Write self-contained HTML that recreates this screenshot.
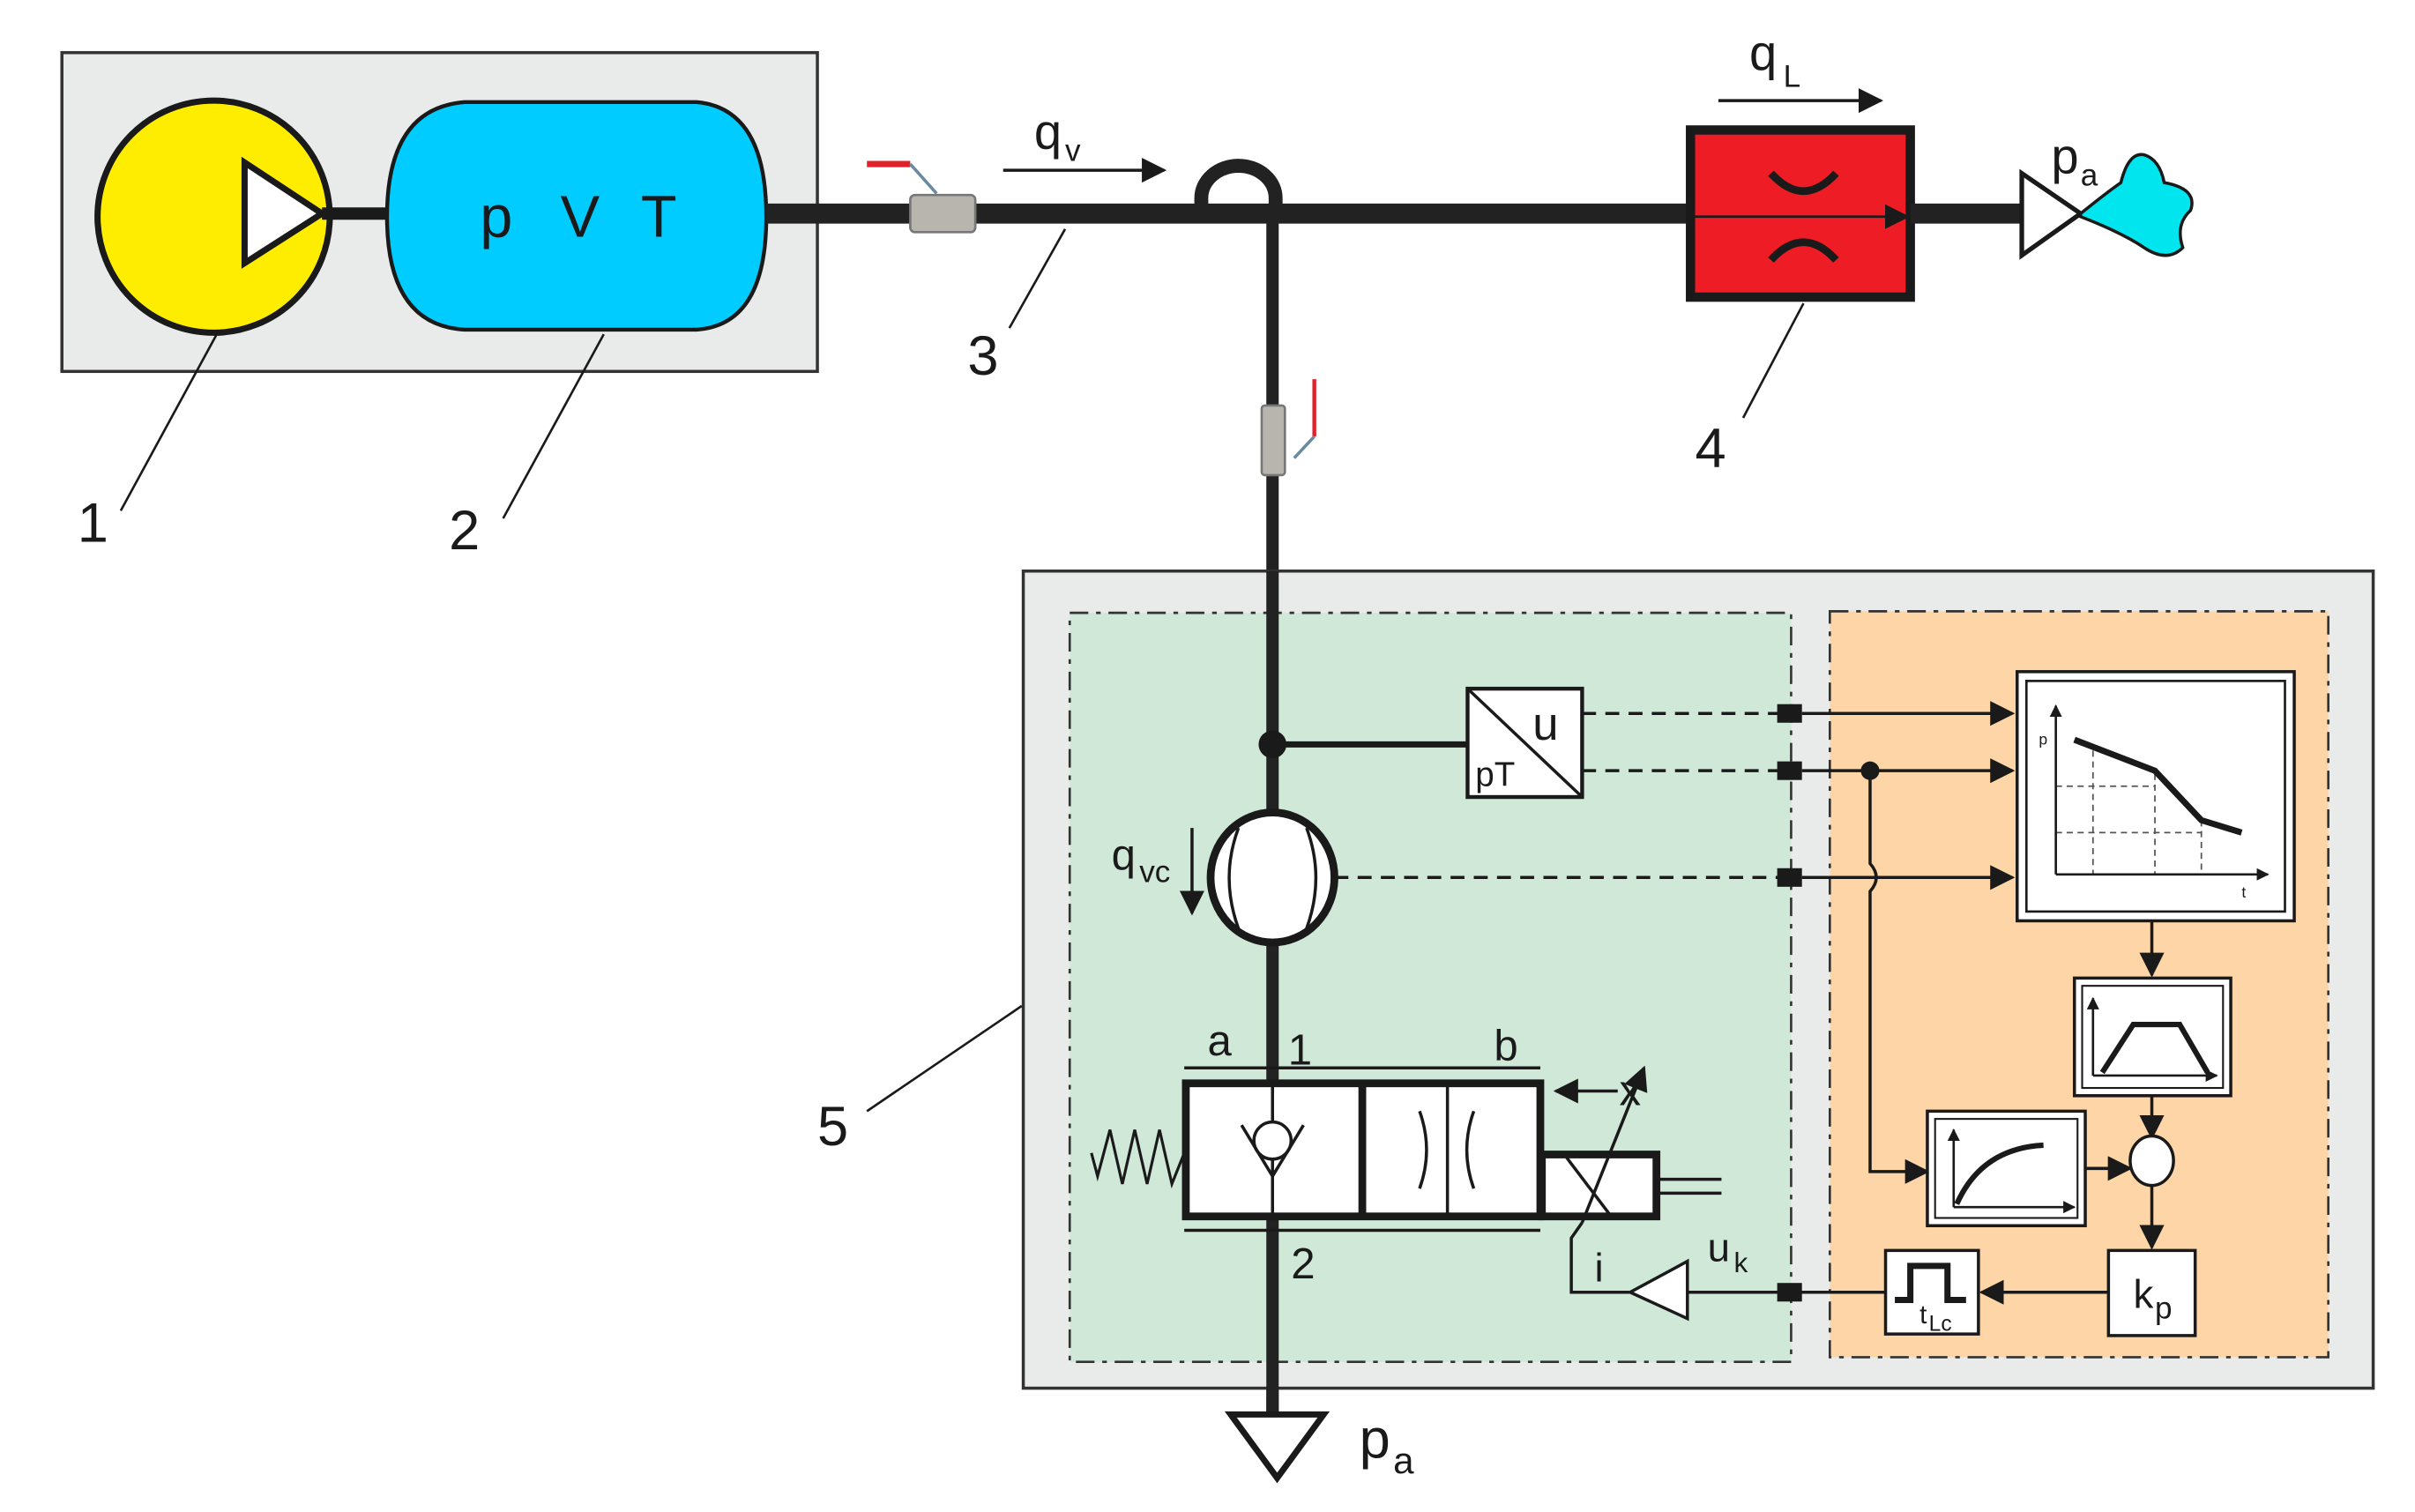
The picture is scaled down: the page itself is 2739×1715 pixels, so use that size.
<!DOCTYPE html>
<html><head><meta charset="utf-8"><style>
html,body{margin:0;padding:0;background:#fff;}
svg{display:block;}
text{font-family:"Liberation Sans",sans-serif;fill:#1a1a1a;}
</style></head><body>
<svg width="2739" height="1715" viewBox="0 0 1560 977" preserveAspectRatio="none" xmlns="http://www.w3.org/2000/svg">
<defs>
<marker id="ah" viewBox="0 0 10 10" refX="9" refY="5" markerWidth="5" markerHeight="5" orient="auto" markerUnits="userSpaceOnUse"><path d="M0,0L10,5L0,10z" fill="#1a1a1a"/></marker>
<marker id="ab" viewBox="0 0 10 10" refX="9" refY="5" markerWidth="16" markerHeight="16" orient="auto" markerUnits="userSpaceOnUse"><path d="M0,0L10,5L0,10z" fill="#1a1a1a"/></marker>
<marker id="as" viewBox="0 0 10 10" refX="9" refY="5" markerWidth="8" markerHeight="8" orient="auto" markerUnits="userSpaceOnUse"><path d="M0,0L10,5L0,10z" fill="#1a1a1a"/></marker>
</defs>

<!-- top grey box -->
<rect x="40" y="34" width="488" height="206" fill="#e8ebea" stroke="#333" stroke-width="2"/>
<circle cx="138" cy="140" r="75" fill="#ffed00" stroke="#1a1a1a" stroke-width="4"/>
<path d="M158,105 L158,170 L208,138 Z" fill="#fff" stroke="#1a1a1a" stroke-width="4"/>
<line x1="208" y1="138" x2="252" y2="138" stroke="#1a1a1a" stroke-width="8"/>
<path d="M300,66 L450,66 Q495,70 495,140 Q495,210 450,213 L300,213 Q250,210 250,140 Q250,70 300,66 Z" fill="#00ccff" stroke="#1a1a1a" stroke-width="2.5"/>
<text x="310" y="153" font-size="38">p</text><text x="362" y="153" font-size="38">V</text><text x="414" y="153" font-size="38">T</text>

<!-- main pipe -->
<line x1="495" y1="138" x2="1092" y2="138" stroke="#222" stroke-width="13"/>
<rect x="588" y="126" width="42" height="24" rx="3" fill="#b8b4ae" stroke="#777" stroke-width="1.5"/>
<line x1="560" y1="106" x2="588" y2="106" stroke="#e0202a" stroke-width="4"/>
<line x1="588" y1="106" x2="605" y2="125" stroke="#6a8aa0" stroke-width="2"/>
<path d="M776,138 L776,128 A23,20 0 0 1 824,128 L824,138" fill="none" stroke="#222" stroke-width="9"/>
<line x1="822" y1="138" x2="822" y2="912" stroke="#222" stroke-width="8"/>
<rect x="815" y="262" width="15" height="45" rx="2" fill="#b8b4ae" stroke="#777" stroke-width="1.5"/>
<line x1="849" y1="245" x2="849" y2="282" stroke="#e0202a" stroke-width="2.5"/>
<line x1="849" y1="282" x2="836" y2="296" stroke="#6a8aa0" stroke-width="2"/>

<text x="668" y="96" font-size="32">q</text><text x="688" y="104" font-size="20">v</text>
<line x1="648" y1="110" x2="752" y2="110" stroke="#1a1a1a" stroke-width="2" marker-end="url(#ab)"/>
<line x1="688" y1="148" x2="652" y2="212" stroke="#1a1a1a" stroke-width="1.5"/>
<text x="625" y="242" font-size="36">3</text>

<!-- red throttle -->
<rect x="1092" y="84" width="142" height="108" fill="#ee1c24" stroke="#1a1a1a" stroke-width="6"/>
<line x1="1094" y1="140" x2="1232" y2="140" stroke="#1a1a1a" stroke-width="1.5" marker-end="url(#ab)"/>
<path d="M1144,112 Q1165,135 1186,112" fill="none" stroke="#1a1a1a" stroke-width="5"/>
<path d="M1144,168 Q1165,145 1186,168" fill="none" stroke="#1a1a1a" stroke-width="5"/>
<text x="1130" y="45" font-size="32">q</text><text x="1152" y="56" font-size="20">L</text>
<line x1="1110" y1="65" x2="1215" y2="65" stroke="#1a1a1a" stroke-width="2" marker-end="url(#ab)"/>
<line x1="1234" y1="138" x2="1305" y2="138" stroke="#222" stroke-width="13"/>
<path d="M1306,112 L1306,165 L1344,138 Z" fill="#fff" stroke="#1a1a1a" stroke-width="3"/>
<path d="M1344,138 Q1360,125 1370,118 Q1375,98 1385,100 Q1395,103 1398,118 Q1420,122 1415,136 Q1405,145 1410,160 Q1400,170 1385,160 Q1370,150 1344,140 Z" fill="#00e5ee" stroke="#1a1a1a" stroke-width="2"/>
<text x="1325" y="112" font-size="32">p</text><text x="1344" y="120" font-size="20">a</text>
<line x1="1165" y1="196" x2="1126" y2="270" stroke="#1a1a1a" stroke-width="1.5"/>
<text x="1095" y="302" font-size="36">4</text>

<line x1="140" y1="216" x2="78" y2="330" stroke="#1a1a1a" stroke-width="1.5"/>
<text x="50" y="350" font-size="36">1</text>
<line x1="390" y1="216" x2="325" y2="335" stroke="#1a1a1a" stroke-width="1.5"/>
<text x="290" y="355" font-size="36">2</text>

<!-- big box 5 -->
<rect x="661" y="369" width="872" height="528" fill="#e8ebea" stroke="#333" stroke-width="2"/>
<rect x="691" y="396" width="466" height="484" fill="#cfe8d8" stroke="#333" stroke-width="1.5" stroke-dasharray="12,5,3,5"/>
<rect x="1182" y="395" width="322" height="482" fill="#fdd5a6" stroke="#333" stroke-width="1.5" stroke-dasharray="12,5,3,5"/>
<line x1="660" y1="650" x2="560" y2="718" stroke="#1a1a1a" stroke-width="1.5"/>
<text x="528" y="740" font-size="36">5</text>

<!-- redraw vertical pipe on top -->
<line x1="822" y1="369" x2="822" y2="915" stroke="#222" stroke-width="8"/>
<circle cx="822" cy="481" r="9" fill="#1a1a1a"/>
<line x1="822" y1="481" x2="948" y2="481" stroke="#1a1a1a" stroke-width="4"/>
<rect x="948" y="445" width="74" height="70" fill="#fff" stroke="#1a1a1a" stroke-width="2.5"/>
<line x1="948" y1="445" x2="1022" y2="515" stroke="#1a1a1a" stroke-width="2"/>
<text x="990" y="478" font-size="30">u</text><text x="953" y="508" font-size="22">pT</text>

<g stroke="#1a1a1a" stroke-width="2" stroke-dasharray="9,6">
<line x1="1022" y1="461" x2="1150" y2="461"/>
<line x1="1022" y1="498" x2="1150" y2="498"/>
<line x1="862" y1="567" x2="1150" y2="567"/>
</g>
<g fill="#1a1a1a">
<rect x="1148" y="455" width="16" height="12"/><rect x="1148" y="492" width="16" height="12"/><rect x="1148" y="561" width="16" height="12"/><rect x="1148" y="829" width="16" height="12"/>
</g>
<g stroke="#1a1a1a" stroke-width="2">
<line x1="1164" y1="461" x2="1300" y2="461" marker-end="url(#ab)"/>
<line x1="1164" y1="498" x2="1300" y2="498" marker-end="url(#ab)"/>
<line x1="1164" y1="567" x2="1300" y2="567" marker-end="url(#ab)"/>
</g>
<circle cx="1208" cy="498" r="6" fill="#1a1a1a"/>
<path d="M1208,498 L1208,558 Q1216,567 1208,576 L1208,757 L1245,757" fill="none" stroke="#1a1a1a" stroke-width="2" marker-end="url(#ab)"/>

<!-- flow meter -->
<ellipse cx="822" cy="567" rx="40" ry="42" fill="#fff" stroke="#1a1a1a" stroke-width="5"/>
<path d="M800,535 Q788,567 800,600 M844,535 Q856,567 844,600" fill="none" stroke="#1a1a1a" stroke-width="2"/>
<text x="718" y="562" font-size="28">q</text><text x="736" y="570" font-size="20">vc</text>
<line x1="770" y1="535" x2="770" y2="590" stroke="#1a1a1a" stroke-width="2" marker-end="url(#ab)"/>

<!-- chart -->
<rect x="1303" y="434" width="179" height="161" fill="#fff" stroke="#1a1a1a" stroke-width="2"/>
<rect x="1309" y="440" width="167" height="149" fill="#fff" stroke="#1a1a1a" stroke-width="1.5"/>
<g stroke="#555" stroke-width="1" stroke-dasharray="4,3">
<line x1="1328" y1="508" x2="1392" y2="508"/><line x1="1328" y1="538" x2="1422" y2="538"/>
<line x1="1352" y1="485" x2="1352" y2="565"/><line x1="1392" y1="500" x2="1392" y2="565"/><line x1="1422" y1="530" x2="1422" y2="565"/>
</g>
<line x1="1328" y1="565" x2="1328" y2="456" stroke="#1a1a1a" stroke-width="1.5" marker-end="url(#as)"/>
<line x1="1328" y1="565" x2="1465" y2="565" stroke="#1a1a1a" stroke-width="1.5" marker-end="url(#as)"/>
<polyline points="1340,478 1392,498 1422,530 1448,538" fill="none" stroke="#1a1a1a" stroke-width="4"/>
<text x="1317" y="481" font-size="10">p</text><text x="1448" y="580" font-size="10">t</text>
<line x1="1390" y1="595" x2="1390" y2="630" stroke="#1a1a1a" stroke-width="2" marker-end="url(#ab)"/>

<!-- trapezoid box -->
<rect x="1340" y="632" width="101" height="76" fill="#fff" stroke="#1a1a1a" stroke-width="2"/>
<rect x="1345" y="637" width="91" height="66" fill="#fff" stroke="#1a1a1a" stroke-width="1.2"/>
<line x1="1352" y1="695" x2="1352" y2="645" stroke="#1a1a1a" stroke-width="1.5" marker-end="url(#as)"/>
<line x1="1352" y1="695" x2="1432" y2="695" stroke="#1a1a1a" stroke-width="1.5" marker-end="url(#as)"/>
<polyline points="1358,693 1378,662 1408,662 1426,693" fill="none" stroke="#1a1a1a" stroke-width="3.5"/>
<line x1="1390" y1="708" x2="1390" y2="735" stroke="#1a1a1a" stroke-width="2" marker-end="url(#ab)"/>
<ellipse cx="1390" cy="750" rx="14" ry="16" fill="#fff" stroke="#1a1a1a" stroke-width="2"/>

<!-- step response -->
<rect x="1245" y="718" width="102" height="74" fill="#fff" stroke="#1a1a1a" stroke-width="2"/>
<rect x="1250" y="723" width="92" height="64" fill="#fff" stroke="#1a1a1a" stroke-width="1.2"/>
<line x1="1262" y1="780" x2="1262" y2="730" stroke="#1a1a1a" stroke-width="1.5" marker-end="url(#as)"/>
<line x1="1262" y1="780" x2="1340" y2="780" stroke="#1a1a1a" stroke-width="1.5" marker-end="url(#as)"/>
<path d="M1264,778 Q1280,742 1320,740" fill="none" stroke="#1a1a1a" stroke-width="3.5"/>
<line x1="1347" y1="755" x2="1376" y2="755" stroke="#1a1a1a" stroke-width="2" marker-end="url(#ab)"/>
<line x1="1390" y1="766" x2="1390" y2="806" stroke="#1a1a1a" stroke-width="2" marker-end="url(#ab)"/>

<!-- kp -->
<rect x="1362" y="808" width="56" height="55" fill="#fff" stroke="#1a1a1a" stroke-width="2"/>
<text x="1378" y="845" font-size="26">k</text><text x="1392" y="852" font-size="20">p</text>
<line x1="1362" y1="835" x2="1280" y2="835" stroke="#1a1a1a" stroke-width="2" marker-end="url(#ab)"/>
<rect x="1218" y="808" width="60" height="54" fill="#fff" stroke="#1a1a1a" stroke-width="2"/>
<polyline points="1224,840 1234,840 1234,818 1258,818 1258,840 1270,840" fill="none" stroke="#1a1a1a" stroke-width="4"/>
<text x="1240" y="855" font-size="17">t</text><text x="1246" y="860" font-size="14">Lc</text>
<line x1="1218" y1="835" x2="1090" y2="835" stroke="#1a1a1a" stroke-width="2"/>
<path d="M1090,815 L1090,852 L1053,835 Z" fill="#fff" stroke="#1a1a1a" stroke-width="2"/>
<text x="1103" y="815" font-size="26">u</text><text x="1120" y="822" font-size="18">k</text>
<polyline points="1053,835 1015,835 1015,800 1022,790" fill="none" stroke="#1a1a1a" stroke-width="2"/>
<text x="1030" y="828" font-size="26">i</text>

<!-- valve -->
<line x1="765" y1="690" x2="995" y2="690" stroke="#1a1a1a" stroke-width="2"/>
<line x1="765" y1="795" x2="995" y2="795" stroke="#1a1a1a" stroke-width="2"/>
<rect x="766" y="700" width="229" height="86" fill="#fff" stroke="#1a1a1a" stroke-width="5"/>
<line x1="880" y1="700" x2="880" y2="786" stroke="#1a1a1a" stroke-width="5"/>
<line x1="935" y1="700" x2="935" y2="786" stroke="#1a1a1a" stroke-width="2"/>
<path d="M917,718 Q926,743 917,768 M952,718 Q943,743 952,768" fill="none" stroke="#1a1a1a" stroke-width="2"/>
<line x1="822" y1="700" x2="822" y2="786" stroke="#1a1a1a" stroke-width="2"/>
<circle cx="822" cy="737" r="12" fill="#fff" stroke="#1a1a1a" stroke-width="2"/>
<polyline points="802,727 822,760 842,727" fill="none" stroke="#1a1a1a" stroke-width="2"/>
<rect x="996" y="746" width="74" height="40" fill="#fff" stroke="#1a1a1a" stroke-width="5"/>
<line x1="1012" y1="748" x2="1040" y2="785" stroke="#1a1a1a" stroke-width="2"/>
<line x1="1070" y1="762" x2="1112" y2="762" stroke="#1a1a1a" stroke-width="2"/>
<line x1="1070" y1="771" x2="1112" y2="771" stroke="#1a1a1a" stroke-width="2"/>
<line x1="1022" y1="790" x2="1062" y2="690" stroke="#1a1a1a" stroke-width="2" marker-end="url(#ab)"/>
<polyline points="765,745 757,765 749,730 741,765 733,730 725,765 717,730 709,760 705,745" fill="none" stroke="#1a1a1a" stroke-width="1.8"/>
<text x="780" y="682" font-size="28">a</text><text x="832" y="688" font-size="28">1</text>
<text x="965" y="685" font-size="28">b</text><text x="834" y="826" font-size="28">2</text>
<line x1="1045" y1="705" x2="1005" y2="705" stroke="#1a1a1a" stroke-width="2" marker-end="url(#ab)"/>
<text x="1046" y="714" font-size="28">x</text>

<!-- exhaust -->
<path d="M795,914 L855,914 L825,955 Z" fill="#fff" stroke="#1a1a1a" stroke-width="4"/>
<text x="878" y="942" font-size="36">p</text><text x="900" y="952" font-size="24">a</text>
</svg>
</body></html>
